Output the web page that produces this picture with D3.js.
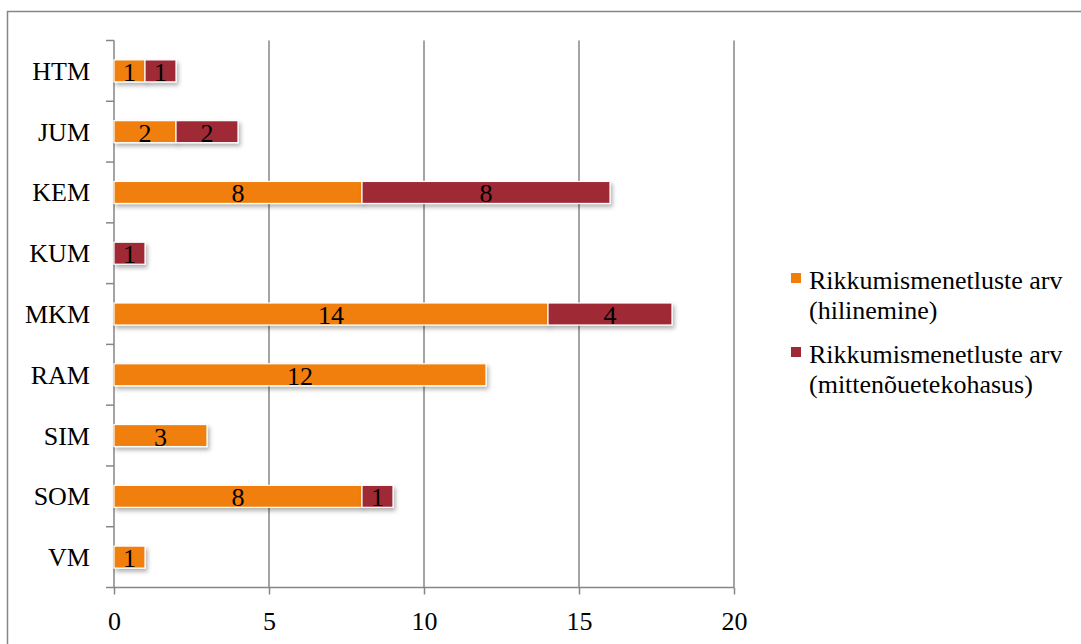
<!DOCTYPE html>
<html>
<head>
<meta charset="utf-8">
<script src="https://cdn.jsdelivr.net/npm/d3@7"></script>
<style>
  html, body { margin: 0; padding: 0; background: #fff; }
  svg { display: block; font-family: "Liberation Serif", "Times New Roman", serif; }
</style>
</head>
<body>
<svg id="chart" width="1081" height="644"></svg>
<script>
// Ministries and number of infringement procedures per type
const categories = ["HTM", "JUM", "KEM", "KUM", "MKM", "RAM", "SIM", "SOM", "VM"];
const lateValues = [1, 2, 8, 0, 14, 12, 3, 8, 1];          // hilinemine
const nonConformValues = [1, 2, 8, 1, 4, 0, 0, 1, 0];      // mittenõuetekohasus
const seriesNames = [
  ["Rikkumismenetluste arv", "(hilinemine)"],
  ["Rikkumismenetluste arv", "(mittenõuetekohasus)"]
];
const seriesColors = ["#F07F09", "#9F2936"];
const xTicks = [0, 5, 10, 15, 20];

const FONT = "Liberation Serif, Times New Roman, serif";
const FS = 26;

const svg = d3.select("#chart");

// outer frame
svg.append("rect")
  .attr("x", 7.5).attr("y", 11.5)
  .attr("width", 1100).attr("height", 700)
  .attr("fill", "none").attr("stroke", "#868686").attr("stroke-width", 1.5);

const plot = { left: 114, right: 734, top: 40.5, bottom: 587.5 };

const x = d3.scaleLinear().domain([0, 20]).range([plot.left, plot.right]);
const y = d3.scaleBand().domain(categories).range([plot.top, plot.bottom]).paddingInner(0).paddingOuter(0);

const defs = svg.append("defs");
const shadow = defs.append("filter").attr("id", "shadow")
  .attr("x", "-10%").attr("y", "-30%").attr("width", "130%").attr("height", "190%");
shadow.append("feDropShadow")
  .attr("dx", 2).attr("dy", 3).attr("stdDeviation", 2)
  .attr("flood-color", "#000").attr("flood-opacity", 0.3);

// vertical gridlines
svg.append("g").selectAll("line")
  .data(xTicks.filter(d => d > 0))
  .join("line")
  .attr("x1", d => x(d)).attr("x2", d => x(d))
  .attr("y1", plot.top).attr("y2", plot.bottom)
  .attr("stroke", "#868686").attr("stroke-width", 1.5);

// x axis
const xAxis = svg.append("g")
  .attr("transform", `translate(0,${plot.bottom})`)
  .call(d3.axisBottom(x).tickValues(xTicks).tickSize(7).tickSizeOuter(0));
xAxis.select(".domain").attr("stroke", "#868686").attr("stroke-width", 1.5)
  .attr("d", `M${plot.left - 8},0H${plot.right}`);
xAxis.selectAll(".tick line").attr("stroke", "#868686").attr("stroke-width", 1.5);
xAxis.selectAll(".tick text")
  .attr("y", 42.5).attr("dy", null)
  .attr("font-size", FS).attr("fill", "#000")
  .attr("font-family", FONT);

// y axis with ticks on band boundaries
const yAxisG = svg.append("g");
yAxisG.append("line")
  .attr("x1", plot.left).attr("x2", plot.left)
  .attr("y1", plot.top).attr("y2", plot.bottom)
  .attr("stroke", "#868686").attr("stroke-width", 1.5);
yAxisG.selectAll("line.bt")
  .data(categories)
  .join("line").attr("class", "bt")
  .attr("x1", plot.left - 8).attr("x2", plot.left)
  .attr("y1", d => y(d)).attr("y2", d => y(d))
  .attr("stroke", "#868686").attr("stroke-width", 1.5);
yAxisG.selectAll("text")
  .data(categories)
  .join("text")
  .attr("x", 90)
  .attr("y", d => y(d) + y.bandwidth() / 2 + 9)
  .attr("text-anchor", "end")
  .attr("font-size", FS)
  .text(d => d);

// stacked bars
const rows = categories.map((c, i) => ({ cat: c, late: lateValues[i], nonconf: nonConformValues[i] }));
const stack = d3.stack().keys(["late", "nonconf"])(rows);
const barH = 22;

const layers = svg.append("g").selectAll("g")
  .data(stack)
  .join("g")
  .attr("fill", (d, i) => seriesColors[i]);

layers.selectAll("rect")
  .data(d => d.filter(s => s[1] - s[0] > 0))
  .join("rect")
  .attr("x", d => x(d[0]))
  .attr("y", d => y(d.data.cat) + y.bandwidth() / 2 - barH / 2)
  .attr("width", d => x(d[1]) - x(d[0]))
  .attr("height", barH)
  .attr("stroke", "#fff").attr("stroke-width", 1.2)
  .attr("filter", "url(#shadow)");

// value labels
layers.selectAll("text")
  .data(d => d.filter(s => s[1] - s[0] > 0))
  .join("text")
  .attr("x", d => (x(d[0]) + x(d[1])) / 2)
  .attr("y", d => y(d.data.cat) + y.bandwidth() / 2 + 10)
  .attr("text-anchor", "middle")
  .attr("font-size", FS)
  .attr("fill", "#000")
  .text(d => d[1] - d[0]);

// legend
const legend = svg.append("g");
const legendBase = [289, 363];
seriesNames.forEach((lines, i) => {
  const g = legend.append("g");
  g.append("rect")
    .attr("x", 791).attr("y", legendBase[i] - 16)
    .attr("width", 10).attr("height", 10)
    .attr("fill", seriesColors[i]);
  lines.forEach((t, j) => {
    g.append("text")
      .attr("x", 809)
      .attr("y", legendBase[i] + j * 30)
      .attr("font-size", FS)
      .text(t);
  });
});
</script>
</body>
</html>
